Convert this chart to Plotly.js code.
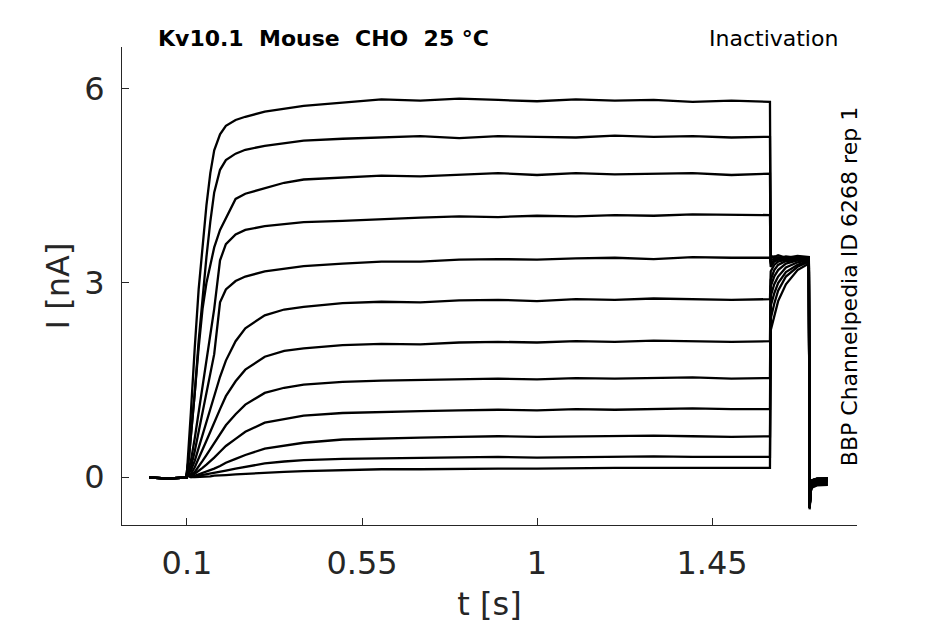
<!DOCTYPE html>
<html>
<head>
<meta charset="utf-8">
<script src="https://cdn.plot.ly/plotly-3.0.1.min.js"></script>
<style>
  body { margin: 0; background: #fff; }
  #graphDiv { width: 945px; height: 624px; }
</style>
</head>
<body>
<div id="graphDiv"></div>
<script>
// sample times (s), shared by all sweeps
const time = [0.003, 0.05, 0.099,
  0.1, 0.105, 0.11, 0.12, 0.13, 0.14, 0.15, 0.16, 0.17, 0.185, 0.2, 0.225, 0.25, 0.3, 0.35, 0.4,
  0.5, 0.6, 0.7, 0.8, 0.9, 1.0, 1.1, 1.2, 1.3, 1.4, 1.5, 1.599,
  1.601, 1.61, 1.62, 1.64, 1.67, 1.699,
  1.701, 1.704, 1.708, 1.72, 1.748];

// current (nA) per sweep
const sweep1 = [-0.01, -0.02, -0.01,
  0.1, 0.45, 1.0, 2.0, 2.9, 3.55, 4.2, 4.7, 5.05, 5.3, 5.43, 5.52, 5.57, 5.65, 5.70, 5.74,
  5.79, 5.84, 5.82, 5.85, 5.83, 5.81, 5.84, 5.82, 5.83, 5.80, 5.82, 5.80,
  3.42, 3.40, 3.43, 3.39, 3.42, 3.40,
  -0.48, -0.15, -0.05, -0.02, -0.02];
const sweep2 = [-0.01, -0.02, -0.01,
  0.1, 0.3, 0.6, 1.3, 2.1, 2.8, 3.4, 3.95, 4.4, 4.75, 4.9, 5.0, 5.06, 5.12, 5.16, 5.2,
  5.23, 5.25, 5.27, 5.24, 5.27, 5.26, 5.25, 5.28, 5.26, 5.27, 5.25, 5.26,
  3.38, 3.41, 3.38, 3.41, 3.39, 3.40,
  -0.48, -0.15, -0.05, -0.03, -0.02];
const sweep3 = [-0.01, -0.02, -0.01,
  0.08, 0.3, 0.6, 1.3, 2.0, 2.6, 3.0, 3.3, 3.55, 3.82, 4.0, 4.3, 4.38, 4.47, 4.55, 4.6,
  4.63, 4.66, 4.65, 4.68, 4.70, 4.67, 4.70, 4.68, 4.69, 4.70, 4.67, 4.69,
  3.35, 3.38, 3.40, 3.38, 3.40, 3.39,
  -0.47, -0.15, -0.05, -0.03, -0.02];
const sweep4 = [-0.01, -0.02, -0.01,
  0.07, 0.15, 0.25, 0.6, 1.0, 1.4, 1.8, 2.2, 2.6, 3.35, 3.6, 3.75, 3.82, 3.88, 3.91, 3.94,
  3.96, 3.99, 4.01, 4.03, 4.02, 4.04, 4.03, 4.05, 4.04, 4.06, 4.05, 4.05,
  3.30, 3.35, 3.37, 3.38, 3.39, 3.38,
  -0.47, -0.14, -0.05, -0.03, -0.02];
const sweep5 = [-0.01, -0.02, -0.01,
  0.06, 0.1, 0.15, 0.4, 0.7, 1.0, 1.3, 1.6, 1.9, 2.7, 2.9, 3.03, 3.1, 3.18, 3.22, 3.26,
  3.3, 3.33, 3.33, 3.36, 3.37, 3.36, 3.38, 3.39, 3.37, 3.40, 3.39, 3.39,
  3.25, 3.33, 3.36, 3.37, 3.38, 3.38,
  -0.46, -0.14, -0.05, -0.03, -0.03];
const sweep6 = [-0.01, -0.02, -0.01,
  0.05, 0.07, 0.1, 0.25, 0.45, 0.65, 0.85, 1.05, 1.25, 1.55, 1.8, 2.1, 2.3, 2.5, 2.59, 2.63,
  2.69, 2.71, 2.70, 2.73, 2.74, 2.72, 2.75, 2.74, 2.76, 2.75, 2.74, 2.75,
  3.18, 3.28, 3.33, 3.36, 3.37, 3.38,
  -0.46, -0.14, -0.06, -0.04, -0.03];
const sweep7 = [-0.01, -0.02, -0.01,
  0.05, 0.06, 0.05, 0.15, 0.28, 0.42, 0.56, 0.7, 0.85, 1.05, 1.25, 1.48, 1.66, 1.86, 1.95, 1.99,
  2.04, 2.06, 2.05, 2.08, 2.09, 2.08, 2.10, 2.09, 2.11, 2.10, 2.09, 2.10,
  3.05, 3.2, 3.28, 3.34, 3.36, 3.37,
  -0.46, -0.15, -0.07, -0.05, -0.04];
const sweep8 = [-0.01, -0.02, -0.01,
  0.04, 0.05, 0.03, 0.08, 0.16, 0.25, 0.34, 0.43, 0.52, 0.66, 0.8, 0.97, 1.12, 1.3, 1.38, 1.43,
  1.47, 1.49, 1.50, 1.51, 1.52, 1.51, 1.53, 1.52, 1.53, 1.54, 1.52, 1.53,
  2.95, 3.1, 3.2, 3.3, 3.35, 3.36,
  -0.46, -0.16, -0.08, -0.06, -0.05];
const sweep9 = [-0.01, -0.02, -0.01,
  0.04, 0.04, 0.02, 0.05, 0.09, 0.14, 0.19, 0.24, 0.3, 0.39, 0.48, 0.59, 0.7, 0.84, 0.9, 0.95,
  0.99, 1.01, 1.02, 1.03, 1.04, 1.03, 1.05, 1.04, 1.05, 1.06, 1.05, 1.05,
  2.8, 2.98, 3.1, 3.24, 3.32, 3.35,
  -0.47, -0.17, -0.1, -0.07, -0.06];
const sweep10 = [-0.01, -0.02, -0.01,
  0.03, 0.03, 0.01, 0.02, 0.04, 0.06, 0.08, 0.1, 0.13, 0.17, 0.22, 0.28, 0.34, 0.44, 0.49, 0.53,
  0.58, 0.60, 0.61, 0.62, 0.63, 0.62, 0.63, 0.63, 0.64, 0.63, 0.62, 0.63,
  2.65, 2.84, 3.0, 3.17, 3.28, 3.34,
  -0.47, -0.18, -0.12, -0.09, -0.08];
const sweep11 = [-0.01, -0.02, -0.01,
  0.03, 0.02, 0.0, 0.01, 0.02, 0.03, 0.04, 0.05, 0.06, 0.08, 0.1, 0.13, 0.16, 0.21, 0.24, 0.26,
  0.28, 0.29, 0.30, 0.30, 0.31, 0.30, 0.31, 0.31, 0.32, 0.31, 0.31, 0.31,
  2.45, 2.68, 2.88, 3.1, 3.25, 3.33,
  -0.48, -0.2, -0.14, -0.11, -0.1];
const sweep12 = [-0.01, -0.02, -0.01,
  0.02, 0.01, 0.0, 0.0, 0.0, 0.01, 0.01, 0.01, 0.02, 0.02, 0.03, 0.04, 0.05, 0.07, 0.08, 0.09,
  0.11, 0.12, 0.12, 0.13, 0.13, 0.13, 0.14, 0.14, 0.14, 0.14, 0.13, 0.14,
  2.27, 2.5, 2.72, 2.98, 3.2, 3.3,
  -0.5, -0.22, -0.16, -0.13, -0.12];

const sweeps = [sweep1, sweep2, sweep3, sweep4, sweep5, sweep6,
  sweep7, sweep8, sweep9, sweep10, sweep11, sweep12];

const xTicks = [0.1, 0.55, 1, 1.45];
const xTickText = ['0.1', '0.55', '1', '1.45'];
const yTicks = [0, 3, 6];
const yTickText = ['0', '3', '6'];

const ink = '#262626';
const font = 'DejaVu Sans';

const data = sweeps.map((y) => ({
  type: 'scatter',
  mode: 'lines',
  x: time,
  y: y,
  line: { color: 'black', width: 2.3 },
  hoverinfo: 'skip',
  showlegend: false,
}));

const layout = {
  width: 945,
  height: 624,
  margin: { l: 122, r: 88, t: 47, b: 99 },
  paper_bgcolor: 'white',
  plot_bgcolor: 'white',
  font: { family: font, color: ink },
  xaxis: {
    range: [-0.0671, 1.8228],
    tickvals: xTicks,
    ticktext: xTickText,
    ticks: 'inside',
    ticklen: 7,
    tickcolor: ink,
    showline: true,
    linecolor: ink,
    linewidth: 1,
    showgrid: false,
    zeroline: false,
    ticklabelstandoff: 10,
    tickfont: { family: font, size: 32, color: ink },
    title: { text: 't [s]', font: { family: font, size: 32, color: ink }, standoff: 11 },
  },
  yaxis: {
    range: [-0.742, 6.649],
    tickvals: yTicks,
    ticktext: yTickText,
    ticks: 'inside',
    ticklen: 7,
    tickcolor: ink,
    showline: true,
    linecolor: ink,
    linewidth: 1,
    showgrid: false,
    zeroline: false,
    ticklabelstandoff: 10,
    tickfont: { family: font, size: 32, color: ink },
    title: { text: 'I [nA]', font: { family: font, size: 32, color: ink }, standoff: 5 },
  },
  annotations: [
    {
      text: '<b>Kv10.1\u00a0\u00a0Mouse\u00a0\u00a0CHO\u00a0\u00a025 °C</b>',
      xref: 'paper', yref: 'paper', x: 0.046, y: 1.017,
      xanchor: 'left', yanchor: 'middle', showarrow: false,
      font: { family: font, size: 22, color: 'black' },
    },
    {
      text: 'Inactivation',
      xref: 'paper', yref: 'paper', x: 0.977, y: 1.017,
      xanchor: 'right', yanchor: 'middle', showarrow: false,
      font: { family: font, size: 22, color: 'black' },
    },
    {
      text: 'BBP Channelpedia ID 6268 rep 1',
      xref: 'paper', yref: 'paper', x: 0.990, y: 0.499,
      xanchor: 'center', yanchor: 'middle', textangle: -90, showarrow: false,
      font: { family: font, size: 22, color: 'black' },
    },
  ],
};

Plotly.newPlot('graphDiv', data, layout, { staticPlot: true, displayModeBar: false });
</script>
</body>
</html>
